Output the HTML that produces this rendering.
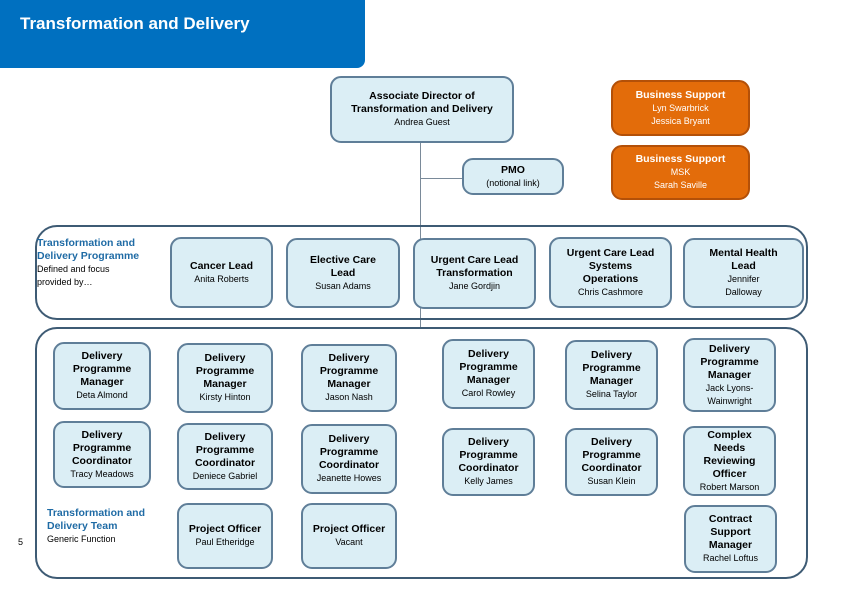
<!DOCTYPE html>
<html><head><style>
body{margin:0;width:842px;height:596px;background:#fff;position:relative;overflow:hidden;font-family:"Liberation Sans",sans-serif;}
.a{position:absolute;box-sizing:border-box;}
.b{position:absolute;box-sizing:border-box;background:#dbeef5;border:2px solid #5f7e98;border-radius:11px;display:flex;flex-direction:column;justify-content:center;align-items:center;text-align:center;font-size:10.5px;line-height:13px;color:#000;}
.b b{font-weight:bold;}
.b span{font-size:9px;line-height:13px;}
.o{background:#e36c0a;border-color:#b35008;color:#fff;}
.p{position:absolute;box-sizing:border-box;border:2px solid #3e5b74;border-radius:22px;}
.t{position:absolute;font-size:10.5px;line-height:13px;color:#1f6ba5;font-weight:bold;}
.s{font-size:9px;color:#000;font-weight:normal;}
</style></head><body>
<div class="a" style="left:0;top:0;width:365px;height:68px;background:#0070c0;border-bottom-right-radius:8px;"></div>
<div class="a" style="left:20px;top:14px;color:#fff;font-weight:bold;font-size:17px;">Transformation and Delivery</div>

<div class="a" style="left:420px;top:143px;width:1px;height:184px;background:#7a8a99;"></div>
<div class="a" style="left:420px;top:178px;width:42px;height:1px;background:#7a8a99;"></div>

<div class="b" style="left:330px;top:76px;width:184px;height:67px;"><b>Associate Director of<br>Transformation and Delivery</b><span>Andrea Guest</span></div>
<div class="b o" style="left:611px;top:80px;width:139px;height:56px;"><b>Business Support</b><span>Lyn Swarbrick<br>Jessica Bryant</span></div>
<div class="b o" style="left:611px;top:145px;width:139px;height:55px;"><b>Business Support</b><span>MSK<br>Sarah Saville</span></div>
<div class="b" style="left:462px;top:158px;width:102px;height:37px;"><b>PMO</b><span>(notional link)</span></div>

<div class="p" style="left:35px;top:225px;width:773px;height:95px;"></div>
<div class="p" style="left:35px;top:327px;width:773px;height:252px;"></div>

<div class="t" style="left:37px;top:237px;">Transformation and<br>Delivery Programme<br><span class="s">Defined and focus<br>provided by…</span></div>
<div class="t" style="left:47px;top:507px;">Transformation and<br>Delivery Team<br><span class="s">Generic Function</span></div>
<div class="a" style="left:18px;top:537px;font-size:9px;">5</div>

<div class="b" style="left:170px;top:237px;width:103px;height:71px;"><b>Cancer Lead</b><span>Anita Roberts</span></div>
<div class="b" style="left:286px;top:238px;width:114px;height:70px;"><b>Elective Care<br>Lead</b><span>Susan Adams</span></div>
<div class="b" style="left:413px;top:238px;width:123px;height:71px;"><b>Urgent Care Lead<br>Transformation</b><span>Jane Gordjin</span></div>
<div class="b" style="left:549px;top:237px;width:123px;height:71px;"><b>Urgent Care Lead<br>Systems<br>Operations</b><span>Chris Cashmore</span></div>
<div class="b" style="left:683px;top:238px;width:121px;height:70px;"><b>Mental Health<br>Lead</b><span>Jennifer<br>Dalloway</span></div>

<div class="b" style="left:53px;top:342px;width:98px;height:68px;"><b>Delivery<br>Programme<br>Manager</b><span>Deta Almond</span></div>
<div class="b" style="left:177px;top:343px;width:96px;height:70px;"><b>Delivery<br>Programme<br>Manager</b><span>Kirsty Hinton</span></div>
<div class="b" style="left:301px;top:344px;width:96px;height:68px;"><b>Delivery<br>Programme<br>Manager</b><span>Jason Nash</span></div>
<div class="b" style="left:442px;top:339px;width:93px;height:70px;"><b>Delivery<br>Programme<br>Manager</b><span>Carol Rowley</span></div>
<div class="b" style="left:565px;top:340px;width:93px;height:70px;"><b>Delivery<br>Programme<br>Manager</b><span>Selina Taylor</span></div>
<div class="b" style="left:683px;top:338px;width:93px;height:74px;"><b>Delivery<br>Programme<br>Manager</b><span>Jack Lyons-<br>Wainwright</span></div>

<div class="b" style="left:53px;top:421px;width:98px;height:67px;"><b>Delivery<br>Programme<br>Coordinator</b><span>Tracy Meadows</span></div>
<div class="b" style="left:177px;top:423px;width:96px;height:67px;"><b>Delivery<br>Programme<br>Coordinator</b><span>Deniece Gabriel</span></div>
<div class="b" style="left:301px;top:424px;width:96px;height:70px;"><b>Delivery<br>Programme<br>Coordinator</b><span>Jeanette Howes</span></div>
<div class="b" style="left:442px;top:428px;width:93px;height:68px;"><b>Delivery<br>Programme<br>Coordinator</b><span>Kelly James</span></div>
<div class="b" style="left:565px;top:428px;width:93px;height:68px;"><b>Delivery<br>Programme<br>Coordinator</b><span>Susan Klein</span></div>
<div class="b" style="left:683px;top:426px;width:93px;height:70px;"><b>Complex<br>Needs<br>Reviewing<br>Officer</b><span>Robert Marson</span></div>

<div class="b" style="left:177px;top:503px;width:96px;height:66px;"><b>Project Officer</b><span>Paul Etheridge</span></div>
<div class="b" style="left:301px;top:503px;width:96px;height:66px;"><b>Project Officer</b><span>Vacant</span></div>
<div class="b" style="left:684px;top:505px;width:93px;height:68px;"><b>Contract<br>Support<br>Manager</b><span>Rachel Loftus</span></div>
</body></html>
